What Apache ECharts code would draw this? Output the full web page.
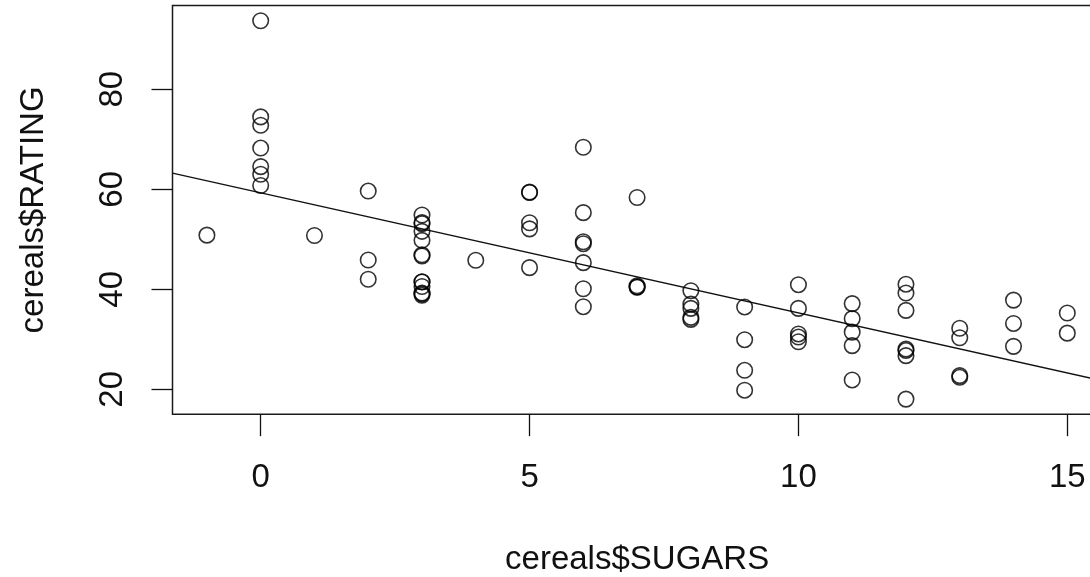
<!DOCTYPE html>
<html>
<head>
<meta charset="utf-8">
<script src="https://cdn.jsdelivr.net/npm/echarts@6/dist/echarts.min.js"></script>
<style>
html,body{margin:0;padding:0;background:#fff;}
#chart{width:1090px;height:577px;}
</style>
</head>
<body>
<div id="chart"></div>
<script>
// cereals$SUGARS values (77 cereals)
const sugars = [6,8,5,0,8,10,14,8,6,5,12,1,9,7,13,3,2,12,13,7,0,3,10,5,13,11,7,10,12,12,15,9,5,3,4,11,10,11,6,9,3,6,12,3,11,11,13,6,9,7,2,10,14,3,0,0,6,-1,12,8,6,2,3,0,0,0,15,3,5,3,14,3,3,12,3,3,8];
// cereals$RATING values
const ratings = [68.40,33.98,59.43,93.70,34.38,29.51,33.17,37.04,49.12,53.31,18.04,50.76,19.82,40.40,22.74,41.45,45.86,35.78,22.40,40.45,64.53,46.90,36.18,44.33,32.21,31.44,58.35,40.92,41.02,28.03,35.25,23.80,52.08,53.37,45.81,21.87,31.07,28.74,36.52,36.47,39.24,45.33,26.73,54.85,37.14,34.14,30.31,40.11,29.92,40.69,59.64,30.45,37.84,41.50,60.76,63.01,49.51,50.83,39.26,39.70,55.33,42.00,40.56,68.24,74.47,72.80,31.23,53.13,59.36,38.84,28.59,46.66,39.11,27.75,49.79,51.59,36.19];
// fitted line (abline of lm(rating ~ sugars))
const intercept = 59.28;
const slope = -2.40;
// axis ranges and tick labels
const xRange = [-1.64, 15.64];
const yRange = [15.02, 96.73];
const xTicks = [0, 5, 10, 15];
const yTicks = [20, 40, 60, 80];
const xTitle = 'cereals$SUGARS';
const yTitle = 'cereals$RATING';

const points = sugars.map((s, i) => [s, ratings[i]]);
const lineData = xRange.map(x => [x, intercept + slope * x]);

const font = "'Liberation Sans', Arial, Helvetica, sans-serif";
const chart = echarts.init(document.getElementById('chart'), null, {renderer: 'canvas'});
chart.setOption({
  animation: false,
  backgroundColor: '#ffffff',
  grid: {
    left: 172.5, top: 5.6, width: 929.2, height: 408.6,
    containLabel: false, outerBoundsMode: 'none',
    show: true, borderColor: '#1a1a1a', borderWidth: 1.5, backgroundColor: 'transparent'
  },
  xAxis: {
    type: 'value', min: xRange[0], max: xRange[1],
    name: xTitle, nameLocation: 'middle', nameGap: 129,
    nameTextStyle: {fontFamily: font, fontSize: 33, color: '#111'},
    axisLine: {show: false, onZero: false},
    splitLine: {show: false},
    axisTick: {show: true, length: 22, customValues: xTicks, lineStyle: {color: '#111', width: 1.3}},
    axisLabel: {show: true, customValues: xTicks, margin: 47, fontFamily: font, fontSize: 33, color: '#111'}
  },
  yAxis: {
    type: 'value', min: yRange[0], max: yRange[1],
    name: yTitle, nameLocation: 'middle', nameGap: 122, nameRotate: 90,
    nameTextStyle: {fontFamily: font, fontSize: 33, color: '#111'},
    axisLine: {show: false, onZero: false},
    splitLine: {show: false},
    axisTick: {show: true, length: 21, customValues: yTicks, lineStyle: {color: '#111', width: 1.3}},
    axisLabel: {show: true, customValues: yTicks, rotate: 90, margin: 43, fontFamily: font, fontSize: 33, color: '#111'}
  },
  series: [
    {
      type: 'scatter', data: points, symbol: 'circle', symbolSize: 15.5,
      itemStyle: {color: 'rgba(0,0,0,0)', borderColor: '#000', borderWidth: 1.6},
      z: 3
    },
    {
      type: 'line', data: lineData, symbol: 'none', clip: true,
      lineStyle: {color: '#111', width: 1.3}, z: 2
    }
  ]
});
</script>
</body>
</html>
